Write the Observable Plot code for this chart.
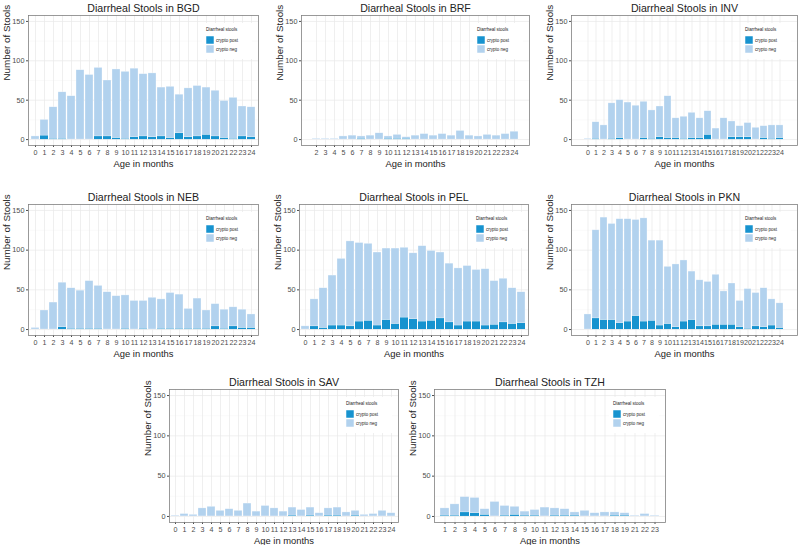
<!DOCTYPE html>
<html><head><meta charset="utf-8">
<script src="https://cdn.jsdelivr.net/npm/d3@7"></script>
<script src="https://cdn.jsdelivr.net/npm/@observablehq/plot@0.6"></script>
<style>
body{margin:0;background:#fff;width:800px;height:545px;position:relative;overflow:hidden;font-family:"Liberation Sans",Arial,sans-serif}
svg.panel{position:absolute;overflow:visible;background:transparent}
</style></head><body>
<script>
// ---- data ----
const bgdAges  = [0,1,2,3,4,5,6,7,8,9,10,11,12,13,14,15,16,17,18,19,20,21,22,23,24];
const bgdTotal = [4,25,41,60,55,88,82,91,75,89,86,90,83,84,66,67,57,65,68,66,62,49,53,42,41];
const bgdPos   = [0,5,1,1,0,0,0,4,4,2,1,3,4,3,4,2,8,3,4,6,4,2,1,4,3];

const brfAges  = [2,3,4,5,6,7,8,9,10,11,12,13,14,15,16,17,18,19,20,21,22,23,24];
const brfTotal = [1,1,1,4,5,4,5,8,4,6,3,5,7,5,7,5,11,5,4,6,5,7,10];
const brfPos   = [0,0,0,0,0,1,0,0,1,1,1,0,0,0,0,0,0,0,0,0,0,0,0];

const invAges  = [0,1,2,3,4,5,6,7,8,9,10,11,12,13,14,15,16,17,18,19,20,21,22,23,24];
const invTotal = [1,22,18,46,50,47,43,48,37,42,55,27,29,34,27,36,14,27,23,17,21,15,17,18,18];
const invPos   = [0,1,0,1,2,0,0,2,1,3,2,2,1,2,2,6,0,0,3,3,3,0,2,1,2];

const nebAges  = [0,1,2,3,4,5,6,7,8,9,10,11,12,13,14,15,16,17,18,19,20,21,22,23,24];
const nebTotal = [2,24,34,59,52,49,61,55,47,42,43,36,36,40,38,46,44,26,39,24,32,25,28,25,19];
const nebPos   = [0,0,0,3,1,1,1,1,0,0,1,0,1,0,1,1,1,1,1,1,4,1,4,2,2];

const pelAges  = [0,1,2,3,4,5,6,7,8,9,10,11,12,13,14,15,16,17,18,19,20,21,22,23,24];
const pelTotal = [4,38,52,68,89,111,109,108,97,102,102,103,96,105,99,97,83,77,80,75,76,61,64,52,47];
const pelPos   = [0,4,2,5,5,4,10,11,5,12,7,15,13,10,11,14,9,5,10,10,5,6,9,7,8];

const pknAges  = [0,1,2,3,4,5,6,7,8,9,10,11,12,13,14,15,16,17,18,19,20,21,22,23,24];
const pknTotal = [19,125,141,133,139,139,138,140,112,112,79,82,87,73,62,60,69,48,58,36,51,46,52,38,33];
const pknPos   = [0,14,12,12,8,10,17,10,11,5,7,3,10,12,4,4,6,6,6,3,1,4,3,5,2];

const savAges  = [0,1,2,3,4,5,6,7,8,9,10,11,12,13,14,15,16,17,18,19,20,21,22,23,24];
const savTotal = [1,3,2,10,12,7,9,7,16,6,13,10,6,11,8,11,4,10,11,5,7,2,3,7,4];
const savPos   = [0,0,0,0,0,0,0,0,0,0,0,0,0,1,0,1,0,1,1,0,1,0,0,0,0];

const tzhAges  = [1,2,3,4,5,6,7,8,9,10,11,12,13,14,15,16,17,18,19,21,22,23];
const tzhTotal = [10,15,24,23,9,18,13,12,6,8,11,10,9,5,7,4,5,5,4,1,3,1];
const tzhPos   = [1,1,5,4,2,0,1,2,1,1,0,1,1,1,0,0,0,1,1,0,0,0];

const yTicks = [0, 50, 100, 150];
const yMinor = [25, 75, 125];
const legendTitle = "Diarrheal stools";
const legendLabels = ["crypto post", "crypto neg"];
const posColor = "#1793cf";
const negColor = "#b2d2ee";
const FONT = '"Liberation Sans", Arial, Helvetica, sans-serif';

function panel(site, ages, total, pos, box) {
  const data = ages.map((a, i) => ({age: String(a), total: total[i], pos: pos[i]}));
  const {sx, sy, w, h, L, R, T, B} = box;
  const svg = Plot.plot({
    width: w, height: h,
    marginLeft: L - sx, marginRight: sx + w - R, marginTop: T - sy, marginBottom: sy + h - B,
    style: {fontFamily: FONT, background: "transparent", overflow: "visible"},
    x: {type: "band", domain: data.map(d => d.age), paddingInner: 0.1, paddingOuter: 0.15},
    y: {domain: [-7.5, 157.5]},
    marks: [
      Plot.ruleY(yMinor, {stroke: "#f4f4f4", strokeWidth: 0.5}),
      Plot.gridY({ticks: yTicks, stroke: "#e8e8e8", strokeOpacity: 1, strokeWidth: 0.7}),
      Plot.gridX({stroke: "#e8e8e8", strokeOpacity: 1, strokeWidth: 0.7}),
      Plot.barY(data, {x: "age", y1: 0, y2: "pos", fill: posColor}),
      Plot.barY(data, {x: "age", y1: "pos", y2: "total", fill: negColor, stroke: "#ffffff", strokeOpacity: 0.6, strokeWidth: 0.5}),
      Plot.axisX({tickSize: 2, tickPadding: 2, fontSize: 7.1, color: "#4d4d4d", label: null}),
      Plot.axisY({ticks: yTicks, tickSize: 2, tickPadding: 2, fontSize: 7.3, color: "#4d4d4d", label: null}),
      Plot.frame({stroke: "#808080", strokeWidth: 0.8}),
      Plot.text(["Diarrheal Stools in " + site], {text: d => d, frameAnchor: "top", dy: -4, lineAnchor: "bottom", fontSize: 10.6, fill: "#222"}),
      Plot.text(["Age in months"], {text: d => d, frameAnchor: "bottom", dy: 18.5, lineAnchor: "middle", fontSize: 9.4, fill: "#222"}),
      Plot.text(["Number of Stools"], {text: d => d, frameAnchor: "left", dx: -22, rotate: -90, fontSize: 9.8, fill: "#222"})
    ]
  });
  svg.classList.add("panel");
  svg.style.left = sx + "px";
  svg.style.top = sy + "px";
  // inset legend
  const g = d3.select(svg).append("g").attr("font-family", FONT).attr("text-anchor", "start");
  const lx = R - sx - 52, ly = T - sy;
  g.append("rect").attr("x", lx - 4).attr("y", ly + 8).attr("width", 50).attr("height", 36).attr("fill", "#fff");
  g.append("text").attr("x", lx).attr("y", ly + 16).attr("font-size", 4.5).attr("fill", "#222").text(legendTitle);
  [posColor, negColor].forEach((c, i) => {
    g.append("rect").attr("x", lx).attr("y", ly + 21 + i * 9).attr("width", 8).attr("height", 8)
      .attr("fill", c).attr("stroke", "#fff").attr("stroke-width", 0.5);
    g.append("text").attr("x", lx + 10).attr("y", ly + 26.6 + i * 9).attr("font-size", 4.5).attr("fill", "#222").text(legendLabels[i]);
  });
  document.body.appendChild(svg);
}

panel("BGD", bgdAges, bgdTotal, bgdPos, {sx: 0,   sy: 0,   w: 267, h: 178, L: 28,  R: 258, T: 15,  B: 145});
panel("BRF", brfAges, brfTotal, brfPos, {sx: 267, sy: 0,   w: 267, h: 178, L: 301, R: 529, T: 15,  B: 145});
panel("INV", invAges, invTotal, invPos, {sx: 533, sy: 0,   w: 267, h: 178, L: 571, R: 797, T: 15,  B: 145});
panel("NEB", nebAges, nebTotal, nebPos, {sx: 0,   sy: 178, w: 267, h: 186, L: 28,  R: 258, T: 204, B: 335});
panel("PEL", pelAges, pelTotal, pelPos, {sx: 267, sy: 178, w: 267, h: 186, L: 299, R: 528, T: 204, B: 335});
panel("PKN", pknAges, pknTotal, pknPos, {sx: 533, sy: 178, w: 267, h: 186, L: 571, R: 797, T: 204, B: 335});
panel("SAV", savAges, savTotal, savPos, {sx: 133, sy: 364, w: 267, h: 181, L: 169, R: 398, T: 389, B: 522});
panel("TZH", tzhAges, tzhTotal, tzhPos, {sx: 400, sy: 364, w: 267, h: 181, L: 434, R: 665, T: 389, B: 522});
</script>
</body></html>
